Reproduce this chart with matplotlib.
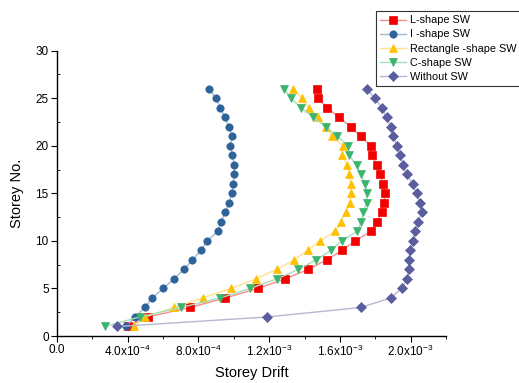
import numpy as np
import matplotlib
matplotlib.use("Agg")
import matplotlib.pyplot as plt
from matplotlib.ticker import MultipleLocator, FixedLocator, FixedFormatter

plt.rcParams["font.family"] = ["Liberation Sans", "DejaVu Sans"]
plt.rcParams["mathtext.fontset"] = "custom"
plt.rcParams["mathtext.rm"] = "Liberation Sans"

storeys = list(range(1, 27))

l_shape = [3.99e-4, 5.12e-4, 7.53e-4, 9.51e-4, 1.136e-3, 1.290e-3, 1.420e-3, 1.525e-3,
           1.612e-3, 1.685e-3, 1.776e-3, 1.808e-3, 1.838e-3, 1.851e-3, 1.855e-3, 1.845e-3,
           1.827e-3, 1.808e-3, 1.783e-3, 1.774e-3, 1.719e-3, 1.661e-3, 1.595e-3, 1.529e-3,
           1.475e-3, 1.469e-3]
i_shape = [3.90e-4, 4.42e-4, 4.97e-4, 5.38e-4, 6.01e-4, 6.61e-4, 7.18e-4, 7.66e-4,
           8.14e-4, 8.49e-4, 9.11e-4, 9.27e-4, 9.53e-4, 9.73e-4, 9.89e-4, 9.96e-4,
           1.002e-3, 1.003e-3, 9.92e-4, 9.81e-4, 9.90e-4, 9.73e-4, 9.49e-4, 9.24e-4,
           8.98e-4, 8.62e-4]
rect_shape = [4.33e-4, 4.99e-4, 6.63e-4, 8.23e-4, 9.85e-4, 1.124e-3, 1.243e-3, 1.341e-3,
              1.418e-3, 1.488e-3, 1.572e-3, 1.606e-3, 1.634e-3, 1.657e-3, 1.661e-3, 1.661e-3,
              1.653e-3, 1.642e-3, 1.610e-3, 1.619e-3, 1.554e-3, 1.520e-3, 1.478e-3, 1.425e-3,
              1.388e-3, 1.337e-3]
c_shape = [2.70e-4, 4.67e-4, 7.01e-4, 9.23e-4, 1.092e-3, 1.243e-3, 1.365e-3, 1.465e-3,
           1.550e-3, 1.610e-3, 1.698e-3, 1.721e-3, 1.732e-3, 1.751e-3, 1.751e-3, 1.742e-3,
           1.718e-3, 1.695e-3, 1.651e-3, 1.647e-3, 1.585e-3, 1.521e-3, 1.450e-3, 1.380e-3,
           1.324e-3, 1.284e-3]
without_sw = [3.42e-4, 1.188e-3, 1.718e-3, 1.887e-3, 1.949e-3, 1.981e-3, 1.990e-3, 1.992e-3,
              1.996e-3, 2.011e-3, 2.024e-3, 2.043e-3, 2.062e-3, 2.053e-3, 2.034e-3, 2.011e-3,
              1.977e-3, 1.958e-3, 1.940e-3, 1.924e-3, 1.902e-3, 1.887e-3, 1.864e-3, 1.838e-3,
              1.797e-3, 1.751e-3]

x_ticks = [0.0, 4e-4, 8e-4, 1.2e-3, 1.6e-3, 2.0e-3]
x_ticklabels = ["0.0", r"4.0x10$^{-4}$", r"8.0x10$^{-4}$", r"1.2x10$^{-3}$",
                r"1.6x10$^{-3}$", r"2.0x10$^{-3}$"]

# label, values, color, marker, marker size
SERIES = [
    ("L-shape SW", l_shape, "#F20000", "s", 5.2),
    ("I -shape SW", i_shape, "#2E6399", "o", 5.3),
    ("Rectangle -shape SW", rect_shape, "#FFC000", "^", 6.3),
    ("C-shape SW", c_shape, "#3AB56B", "v", 6.3),
    ("Without SW", without_sw, "#5B5E9E", "D", 4.8),
]


def _lighten(color, amount=0.55):
    rgb = np.array(matplotlib.colors.to_rgb(color))
    return tuple(rgb + (1 - rgb) * amount)


fig = plt.figure(figsize=(5.19, 3.83), dpi=100)
ax = fig.add_axes([0.1098, 0.1227, 0.7495, 0.7449])

for label, vals, color, marker, ms in SERIES:
    ax.plot(vals, storeys, color=_lighten(color), linewidth=1.0, marker=marker,
            markersize=ms, markerfacecolor=color, markeredgecolor=color,
            markeredgewidth=0.5, label=label)

ax.set_xlim(0, 2.2e-3)
ax.set_ylim(0, 30)
for side in ("top", "right"):
    ax.spines[side].set_visible(False)
for side in ("left", "bottom"):
    ax.spines[side].set_linewidth(1.0)

ax.xaxis.set_major_locator(FixedLocator(x_ticks))
ax.xaxis.set_major_formatter(FixedFormatter(x_ticklabels))
ax.xaxis.set_minor_locator(MultipleLocator(2e-4))
ax.yaxis.set_major_locator(MultipleLocator(5))
ax.yaxis.set_minor_locator(MultipleLocator(2.5))
ax.tick_params(axis="x", which="major", direction="out", length=4, labelsize=8.5, pad=1.5)
ax.tick_params(axis="x", which="minor", direction="out", length=2.5)
ax.tick_params(axis="y", which="major", direction="out", length=4, labelsize=8.5, pad=2)
ax.tick_params(axis="y", which="minor", direction="in", length=2.5)

ax.set_xlabel("Storey Drift", fontsize=10.5, labelpad=5)
ax.set_ylabel("Storey No.", fontsize=10.5, labelpad=8)

leg = fig.legend(loc="upper left", bbox_to_anchor=(0.7245, 0.9713), fontsize=7.8,
                 frameon=True, fancybox=False, edgecolor="#333333", framealpha=1,
                 handlelength=2.4, handletextpad=0.35, borderpad=0.4, labelspacing=0.38,
                 borderaxespad=0)
leg.get_frame().set_linewidth(0.8)

fig.savefig("out.png", dpi=100)
